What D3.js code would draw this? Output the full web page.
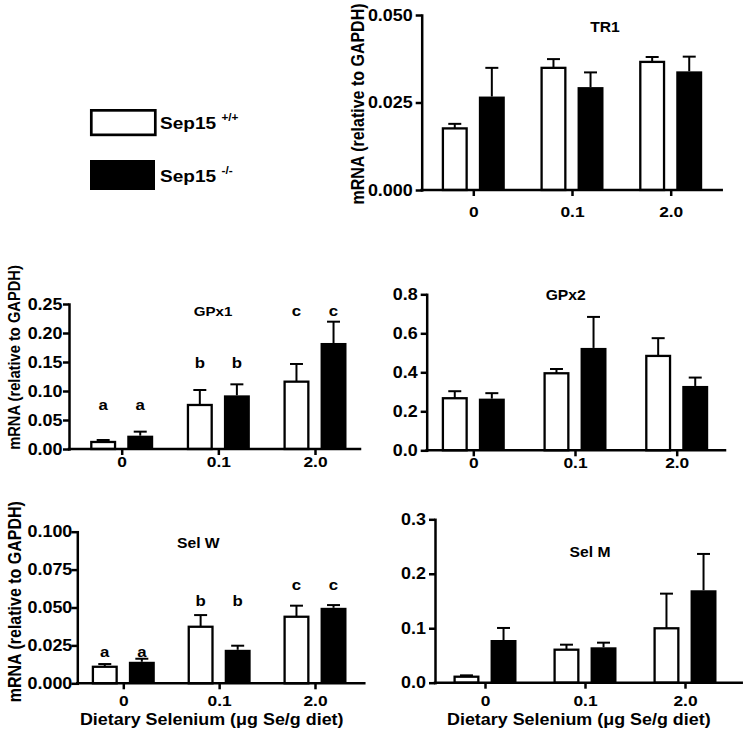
<!DOCTYPE html>
<html><head><meta charset="utf-8">
<script src="https://cdn.jsdelivr.net/npm/d3@7"></script>
<style>
body{margin:0;background:#fff}
svg text{font-family:"Liberation Sans",Arial,Helvetica,sans-serif;font-weight:bold;fill:#000}
</style>
</head><body>
<svg id="c" width="748" height="742"></svg>
<script>
// ---------------- data ----------------
const categories = ["0", "0.1", "2.0"];
const seriesLabels = ["Sep15", "Sep15"];
const seriesSup = ["+/+", "-/-"];
const xAxisTitle = "Dietary Selenium (\u03bcg Se/g diet)";
const yAxisTitle = "mRNA (relative to GAPDH)";

const tr1WT = [0.0176, 0.0349, 0.0366];
const tr1WTsem = [0.0013, 0.0025, 0.0014];
const tr1KO = [0.0267, 0.0294, 0.0339];
const tr1KOsem = [0.0082, 0.0042, 0.0042];
const tr1Ticks = [0, 0.025, 0.05];

const gpx1WT = [0.0121, 0.0759, 0.1161];
const gpx1WTsem = [0.0034, 0.0258, 0.0305];
const gpx1KO = [0.0230, 0.0925, 0.1828];
const gpx1KOsem = [0.0069, 0.0190, 0.0367];
const gpx1Ticks = [0, 0.05, 0.10, 0.15, 0.20, 0.25];
const gpx1Letters = ["a", "b", "c"];
const gpx1LetterLevel = [0.068, 0.139, 0.229];

const gpx2WT = [0.267, 0.395, 0.484];
const gpx2WTsem = [0.036, 0.022, 0.091];
const gpx2KO = [0.265, 0.525, 0.330];
const gpx2KOsem = [0.028, 0.159, 0.043];
const gpx2Ticks = [0, 0.2, 0.4, 0.6, 0.8];

const selwWT = [0.0109, 0.0373, 0.0439];
const selwWTsem = [0.0018, 0.0077, 0.0073];
const selwKO = [0.0142, 0.0221, 0.0498];
const selwKOsem = [0.0020, 0.0027, 0.0018];
const selwTicks = [0, 0.025, 0.05, 0.075, 0.1];
const selwLetters = ["a", "b", "c"];
const selwLetterLevel = [0.0176, 0.051, 0.0615];

const selmWT = [0.0110, 0.0606, 0.0999];
const selmWTsem = [0.0025, 0.0092, 0.0636];
const selmKO = [0.0784, 0.0650, 0.1697];
const selmKOsem = [0.0221, 0.0085, 0.0667];
const selmTicks = [0, 0.1, 0.2, 0.3];

// ---------------- layout ----------------
const S = 1.12; // horizontal text stretch of the reference
const panels = [
  {title:"TR1", wt:tr1WT, wtE:tr1WTsem, ko:tr1KO, koE:tr1KOsem, max:0.05, ticks:tr1Ticks, fmt:".3f",
   xa:421.7, xb:721.7, c0:473.3, c2:670.7, yb:190, yt:15, tx:605, ty:26.7, tsize:14,
   yPad:3, xPad:10, yTitle:{x:358, y:104, size:16}, xTitle:null},
  {title:"GPx1", wt:gpx1WT, wtE:gpx1WTsem, ko:gpx1KO, koE:gpx1KOsem, max:0.25, ticks:gpx1Ticks, fmt:".2f",
   xa:69, xb:360, c0:121.7, c2:315, yb:449, yt:304, tx:213, ty:311.7, tsize:13.5,
   yPad:0.5, xPad:1, yTitle:{x:14, y:357.5, size:14.7}, xTitle:null,
   letters:gpx1Letters, letterLevel:gpx1LetterLevel},
  {title:"GPx2", wt:gpx2WT, wtE:gpx2WTsem, ko:gpx2KO, koE:gpx2KOsem, max:0.8, ticks:gpx2Ticks, fmt:".1f",
   xa:426.7, xb:725, c0:473.3, c2:676.7, yb:450.3, yt:294.3, tx:565.7, ty:295, tsize:14,
   yPad:3, xPad:0.5, yTitle:null, xTitle:null},
  {title:"Sel W", wt:selwWT, wtE:selwWTsem, ko:selwKO, koE:selwKOsem, max:0.1, ticks:selwTicks, fmt:".3f",
   xa:77.3, xb:364.3, c0:123.3, c2:315, yb:683.3, yt:531.7, tx:198.3, ty:543.3, tsize:14,
   yPad:-1, xPad:6, yTitle:{x:15, y:601.7, size:16}, xTitle:{x:211.7, y:719},
   letters:selwLetters, letterLevel:selwLetterLevel},
  {title:"Sel M", wt:selmWT, wtE:selmWTsem, ko:selmKO, koE:selmKOsem, max:0.3, ticks:selmTicks, fmt:".1f",
   xa:435, xb:741.7, c0:485, c2:685, yb:682.7, yt:519.3, tx:590, ty:551.7, tsize:14,
   yPad:3, xPad:6.5, yTitle:null, xTitle:{x:578.8, y:719}}
];

const svg = d3.select("#c");

function stretch(sel) {
  sel.each(function() {
    const t = d3.select(this);
    const x = +t.attr("x") || 0, y = +t.attr("y") || 0;
    t.attr("x", 0).attr("y", 0).attr("transform", `translate(${x},${y}) scale(${S},1)`);
  });
}
function label(g, txt, x, y, size, anchor) {
  return g.append("text").attr("transform", `translate(${x},${y}) scale(${S},1)`)
    .attr("text-anchor", anchor || "middle").attr("dy", "0.35em")
    .style("font-size", size + "px").text(txt);
}

panels.forEach(p => {
  const g = svg.append("g");
  const y = d3.scaleLinear().domain([0, p.max]).range([p.yb, p.yt]);
  const x = d3.scalePoint().domain(categories).range([p.c0, p.c2]);
  const sub = d3.scaleBand().domain([0, 1]).range([-31.5, 31.5]).paddingInner(0.3);
  const bw = sub.bandwidth();

  [[p.wt, p.wtE], [p.ko, p.koE]].forEach(([vals, errs], si) => {
    vals.forEach((v, i) => {
      const cx = x(categories[i]) + sub(si) + bw / 2;
      const top = y(v + errs[i]);
      g.append("line").attr("x1", cx).attr("x2", cx).attr("y1", y(v)).attr("y2", top)
        .attr("stroke", "#000").attr("stroke-width", 2);
      g.append("line").attr("x1", cx - 6.5).attr("x2", cx + 6.5).attr("y1", top).attr("y2", top)
        .attr("stroke", "#000").attr("stroke-width", 2);
      if (si === 0) {
        g.append("rect").attr("x", cx - bw / 2 + 1.1).attr("y", y(v))
          .attr("width", bw - 2.2).attr("height", y(0) - y(v))
          .attr("fill", "#fff").attr("stroke", "#000").attr("stroke-width", 2.3);
      } else {
        g.append("rect").attr("x", cx - bw / 2).attr("y", y(v))
          .attr("width", bw).attr("height", y(0) - y(v)).attr("fill", "#000");
      }
      if (p.letters) {
        g.append("text").attr("transform", `translate(${cx},${y(p.letterLevel[i])}) scale(${S},1)`)
          .attr("text-anchor", "middle").style("font-size", "15px").text(p.letters[i]);
      }
    });
  });

  // y axis
  const ya = g.append("g").attr("transform", `translate(${p.xa},0)`)
    .call(d3.axisLeft(y).tickValues(p.ticks).tickFormat(d3.format(p.fmt))
      .tickSize(6).tickSizeOuter(0).tickPadding(p.yPad));
  ya.attr("font-size", 16);
  ya.select(".domain").attr("stroke-width", 2.5).attr("stroke-linecap", "square");
  ya.selectAll(".tick line").attr("stroke-width", 2.5);
  stretch(ya.selectAll(".tick text"));

  // x axis
  const xa = g.append("g").attr("transform", `translate(0,${p.yb})`)
    .call(d3.axisBottom(x).tickSize(6).tickSizeOuter(0).tickPadding(p.xPad));
  xa.select(".domain").remove();
  xa.attr("font-size", 15.5);
  xa.selectAll(".tick line").attr("stroke-width", 2.5);
  stretch(xa.selectAll(".tick text"));
  g.append("line").attr("x1", p.xa).attr("x2", p.xb).attr("y1", p.yb).attr("y2", p.yb)
    .attr("stroke", "#000").attr("stroke-width", 2.5).attr("stroke-linecap", "square");

  // panel title
  label(g, p.title, p.tx, p.ty, p.tsize);

  if (p.yTitle) {
    g.append("text")
      .attr("transform", `translate(${p.yTitle.x},${p.yTitle.y}) scale(${S},1) rotate(-90)`)
      .attr("text-anchor", "middle").attr("dy", "0.35em")
      .style("font-size", p.yTitle.size + "px").text(yAxisTitle);
  }
  if (p.xTitle) {
    label(g, xAxisTitle, p.xTitle.x, p.xTitle.y, 16);
  }
});

// legend
const lg = svg.append("g");
const legendRows = [{y: 122.6, h: 24.5, fill: "#fff"}, {y: 175, h: 30, fill: "#000"}];
legendRows.forEach((r, i) => {
  if (i === 0) {
    lg.append("rect").attr("x", 91.3).attr("y", r.y - r.h / 2).attr("width", 64).attr("height", r.h)
      .attr("fill", r.fill).attr("stroke", "#000").attr("stroke-width", 2.7);
  } else {
    lg.append("rect").attr("x", 90).attr("y", r.y - r.h / 2).attr("width", 65).attr("height", r.h)
      .attr("fill", r.fill);
  }
  lg.append("text").attr("transform", `translate(160,${r.y + 6.5}) scale(${S},1)`)
    .style("font-size", "17px").text(seriesLabels[i]);
  lg.append("text").attr("transform", `translate(221.5,${r.y - 1.5}) scale(${S},1)`)
    .style("font-size", "10.5px").text(seriesSup[i]);
});
</script>
</body></html>
